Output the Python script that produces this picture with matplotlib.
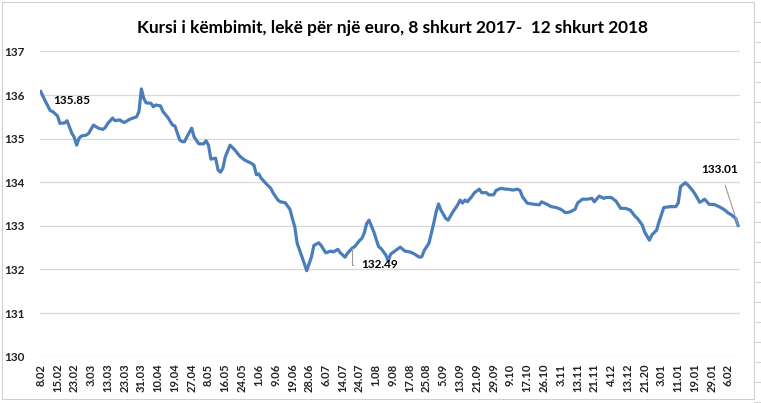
import matplotlib
matplotlib.use("Agg")
import matplotlib.pyplot as plt
from matplotlib.patches import Rectangle
from matplotlib.lines import Line2D

# Day positions (trading-day index from 8.02.2017) and exchange rate, lek per euro
day_idx = [0, 2, 4, 5, 7, 8, 10, 11, 13, 14, 15, 16, 17, 19, 20, 22, 24, 26, 27, 28,
           30, 31, 33, 34, 35, 37, 40, 41, 42, 43, 44, 46, 47, 48, 50, 51, 53, 55, 56, 58,
           59, 60, 61, 63, 64, 66, 68, 69, 70, 71, 73, 74, 75, 76, 77, 79, 81, 83, 85, 88,
           89, 90, 91, 92, 94, 96, 97, 99, 100, 102, 104, 105, 106, 107, 109, 111, 113, 114, 116, 117,
           118, 119, 121, 122, 124, 125, 127, 128, 130, 131, 133, 134, 135, 136, 137, 139, 141, 142, 144, 145,
           146, 148, 150, 152, 154, 155, 156, 158, 159, 160, 162, 164, 165, 166, 167, 169, 170, 172, 174, 175,
           176, 177, 178, 180, 181, 183, 184, 186, 187, 189, 190, 192, 194, 195, 197, 199, 200, 201, 203, 205,
           208, 209, 211, 213, 215, 217, 219, 221, 223, 224, 226, 228, 230, 231, 233, 235, 236, 238, 240, 242,
           244, 246, 248, 249, 251, 252, 254, 255, 257, 258, 260, 263, 265, 266, 267, 269, 270, 272, 273, 275,
           276, 277, 279, 281, 283, 285, 287, 288, 290, 291]
rate = [136.08, 135.85, 135.64, 135.62, 135.52, 135.35, 135.36, 135.41, 135.12, 135.03, 134.85, 135.01, 135.06, 135.08, 135.12, 135.31, 135.24, 135.21, 135.26, 135.35,
        135.47, 135.41, 135.43, 135.39, 135.37, 135.44, 135.50, 135.62, 136.14, 135.92, 135.82, 135.81, 135.73, 135.77, 135.75, 135.62, 135.49, 135.31, 135.29, 134.97,
        134.93, 134.93, 135.04, 135.24, 135.04, 134.88, 134.88, 134.95, 134.85, 134.53, 134.55, 134.28, 134.23, 134.32, 134.58, 134.85, 134.74, 134.60, 134.51, 134.43,
        134.39, 134.17, 134.19, 134.09, 133.97, 133.86, 133.75, 133.59, 133.55, 133.53, 133.38, 133.17, 132.98, 132.60, 132.29, 131.97, 132.29, 132.55, 132.61, 132.55,
        132.46, 132.38, 132.42, 132.40, 132.46, 132.38, 132.28, 132.37, 132.49, 132.52, 132.66, 132.71, 132.83, 133.05, 133.13, 132.86, 132.52, 132.48, 132.33, 132.19,
        132.35, 132.43, 132.51, 132.42, 132.40, 132.38, 132.35, 132.28, 132.29, 132.43, 132.60, 133.06, 133.32, 133.50, 133.36, 133.17, 133.13, 133.32, 133.48, 133.59,
        133.52, 133.59, 133.55, 133.68, 133.76, 133.84, 133.76, 133.76, 133.71, 133.71, 133.81, 133.86, 133.84, 133.84, 133.82, 133.84, 133.81, 133.67, 133.52, 133.50,
        133.48, 133.55, 133.50, 133.44, 133.42, 133.38, 133.30, 133.32, 133.38, 133.52, 133.61, 133.61, 133.63, 133.55, 133.68, 133.63, 133.65, 133.65, 133.57, 133.40,
        133.40, 133.36, 133.22, 133.17, 133.02, 132.86, 132.67, 132.79, 132.90, 133.09, 133.42, 133.44, 133.44, 133.52, 133.90, 133.99, 133.94, 133.81, 133.73, 133.54,
        133.57, 133.61, 133.49, 133.49, 133.44, 133.38, 133.29, 133.26, 133.17, 133.01]

tick_labels = ["8.02", "15.02", "23.02", "3.03", "13.03", "23.03", "31.03", "10.04", "19.04", "27.04",
               "8.05", "16.05", "24.05", "1.06", "9.06", "19.06", "28.06", "6.07", "14.07", "24.07",
               "1.08", "9.08", "17.08", "25.08", "5.09", "13.09", "21.09", "29.09", "9.10", "17.10",
               "26.10", "3.11", "13.11", "21.11", "4.12", "13.12", "21.20", "3.01", "11.01", "19.01",
               "29.01", "6.02"]
tick_step = 7
y_ticks = [130, 131, 132, 133, 134, 135, 136, 137]

title = "Kursi i këmbimit, lekë për një euro, 8 shkurt 2017-  12 shkurt 2018"

plt.rcParams['font.family'] = ['Lato', 'DejaVu Sans']

W, H = 761, 403
fig = plt.figure(figsize=(W / 100, H / 100), dpi=100)

# spreadsheet cell lines around the chart object and the chart border
cell_col = '#d4d4d4'
for yy in range(22, H, 20):
    fig.add_artist(Line2D([754 / W, 1], [1 - yy / H, 1 - yy / H], color=cell_col, lw=0.8))
fig.add_artist(Rectangle((2 / W, 1 - 399 / H), 752 / W, 397 / H, fill=False,
                         edgecolor='#d0d0d0', lw=0.8))

ax = fig.add_axes([40 / W, 1 - 356.6 / H, 700 / W, (356.6 - 51.4) / H])

ax.plot(day_idx, rate, color='#4a7ebb', lw=2.3, solid_joinstyle='round', zorder=3)

ax.set_xlim(-0.3, 291.8)
ax.set_ylim(130, 137)
ax.set_yticks(y_ticks)
ax.set_yticklabels([str(v) for v in y_ticks], fontsize=8.5, fontweight='bold', color='#222222')
ax.set_xticks([i * tick_step for i in range(len(tick_labels))])
ax.set_xticklabels(tick_labels, rotation=90, fontsize=8, fontweight='bold', color='#222222',
                   va='top', ha='center')
ax.tick_params(axis='both', length=0)
ax.tick_params(axis='y', pad=11)
ax.tick_params(axis='x', pad=5)
ax.grid(axis='y', color='#d9d9d9', lw=0.9)
ax.set_axisbelow(True)
for s in ax.spines.values():
    s.set_visible(False)

fig.text(392 / W, 1 - 28 / H, title, ha='center', va='center', fontsize=12.4, fontweight='bold')

# data labels
i0 = 1
ax.annotate(f"{rate[i0]:.2f}", xy=(day_idx[i0], rate[i0]), xytext=(72 / W, 1 - 101 / H),
            textcoords='figure fraction', ha='center', va='center', fontsize=8.5, fontweight='bold')
i_mid = day_idx.index(130)
ax.annotate(f"{rate[i_mid]:.2f}", xy=(day_idx[i_mid], rate[i_mid]), xytext=(361 / W, 1 - 265 / H),
            textcoords='figure fraction', ha='left', va='center', fontsize=8.5, fontweight='bold',
            arrowprops=dict(arrowstyle='-', color='#999999', lw=0.8,
                            connectionstyle='angle,angleA=0,angleB=90,rad=0', shrinkA=4, shrinkB=0))
ax.annotate(f"{rate[-1]:.2f}", xy=(day_idx[-1], rate[-1]), xytext=(720 / W, 1 - 169 / H),
            textcoords='figure fraction', ha='center', va='center', fontsize=8.5, fontweight='bold',
            arrowprops=dict(arrowstyle='-', color='#999999', lw=0.8, shrinkA=6, shrinkB=0))

fig.savefig("out.png", dpi=100)
